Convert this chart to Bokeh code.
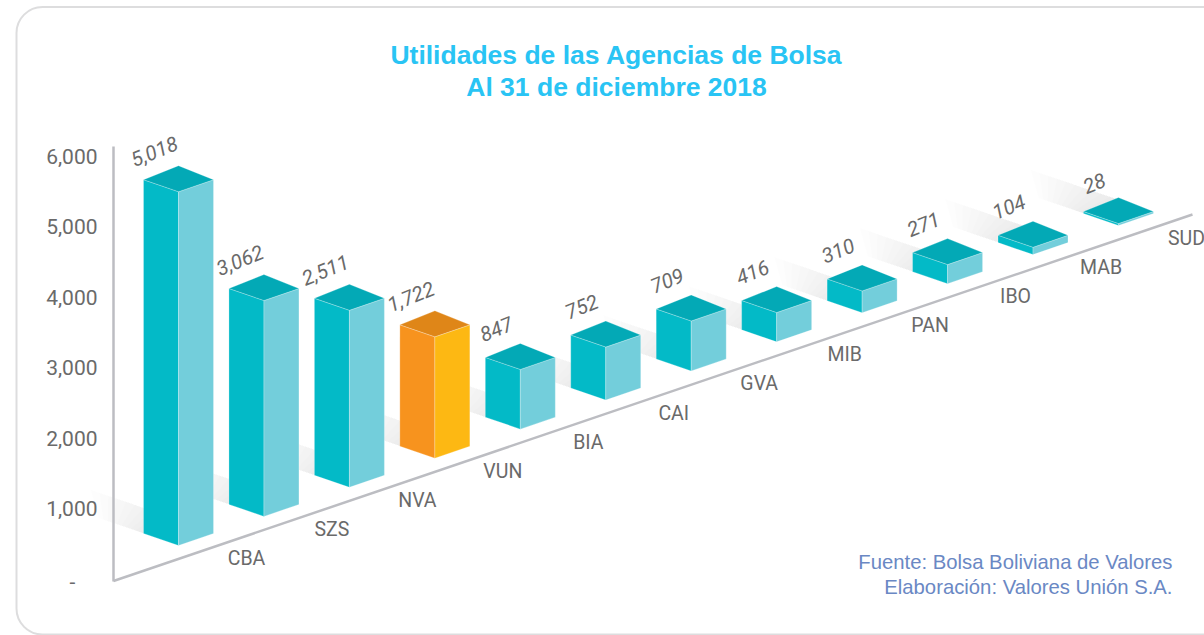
from bokeh.embed import file_html
from bokeh.resources import INLINE
from bokeh.plotting import figure
from bokeh.models import (ColumnDataSource, Range1d, LinearAxis, FixedTicker, NumeralTickFormatter,
                          PolyAnnotation, BoxAnnotation, Label)
from bokeh.core.properties import value

categories = ["CBA", "SZS", "NVA", "VUN", "BIA", "CAI", "GVA", "MIB", "PAN", "IBO", "MAB", "SUD"]
utilidades = [5018, 3062, 2511, 1722, 847, 752, 709, 416, 310, 271, 104, 28]
y_ticks = [0, 1000, 2000, 3000, 4000, 5000, 6000]
highlight = "VUN"
title_lines = ["Utilidades de las Agencias de Bolsa", "Al 31 de diciembre 2018"]
source_lines = ["Fuente: Bolsa Boliviana de Valores", "Elaboración: Valores Unión S.A."]

# canvas pixels <-> data
PX_PER_CAT = 85.45
PX_PER_UNIT = 0.0705
X0, Y0 = 178.0, 580.5
def X(px): return (px - X0) / PX_PER_CAT
def Y(py): return (Y0 - py) / PX_PER_UNIT

W, H = 1204, 635
AXIS_X = 113
p = figure(width=W, height=H, output_backend="svg", toolbar_location=None,
           x_range=Range1d(X(0), X(W)), y_range=Range1d(Y(H), Y(0)),
           x_axis_type=None, y_axis_type=None,
           min_border_left=0, min_border_right=0, min_border_top=0, min_border_bottom=0)
p.outline_line_color = None
p.xgrid.visible = False
p.ygrid.visible = False
p.background_fill_color = "white"

FONT = "Roboto"
GRAY = "#6a6a6a"
AXIS = "#bcbdc2"

# tick label text sits 2px low in this font: the axis gets its own range, lifted by that much
LIFT = 2 / PX_PER_UNIT
p.extra_y_ranges = {"ticks": Range1d(Y(H) - LIFT, Y(0) - LIFT)}
yaxis = LinearAxis(y_range_name="ticks", fixed_location=X(AXIS_X),
                   ticker=FixedTicker(ticks=y_ticks), formatter=NumeralTickFormatter(format="0,0"),
                   major_label_overrides={0: ""}, bounds=(-LIFT, Y(146) - LIFT),
                   axis_line_color=AXIS, axis_line_width=2.5,
                   major_tick_line_color=None, minor_tick_line_color=None,
                   major_label_standoff=10, major_label_text_font=FONT,
                   major_label_text_font_size="21px", major_label_text_color=GRAY)
p.add_layout(yaxis, "left")
p.add_layout(Label(x=X(72), y=0, text="-", text_font=FONT,
                   text_font_size="21px", text_color=GRAY, text_align="center", text_baseline="middle"))

# rounded card
p.add_layout(BoxAnnotation(left=X(16), right=X(1290), top=Y(6.5), bottom=Y(634), border_radius=26,
                           fill_alpha=0, line_color="#909092", line_width=2, level="underlay"))

# oblique projection
DEPTH_UP = 29.09 / PX_PER_UNIT      # floor rise per category, in value units
BASE = (Y0 - 545) / PX_PER_UNIT     # front corner of first bar
HALF = 35 / PX_PER_CAT
SIDE = 12 / PX_PER_UNIT
BACK = 2 * SIDE + 2 / PX_PER_UNIT

# floor shadows behind every bar, faded by nesting translucent strips
STEPS = 10
for i in range(len(categories)):
    fy = BASE + i * DEPTH_UP
    lx, ly = i - HALF, fy + SIDE
    bx, by = i, fy + BACK
    for k in range(STEPS, 0, -1):
        f = k / STEPS
        tb, tl = 88 * f, 45 * f
        pts = [(lx, ly), (bx, by),
               (bx - tb / PX_PER_CAT, by + tb * 0.34 / PX_PER_UNIT),
               (lx - tl / PX_PER_CAT, ly + tl * 0.34 / PX_PER_UNIT)]
        p.add_layout(PolyAnnotation(xs=[q[0] for q in pts], ys=[q[1] for q in pts],
                                    fill_color="#000000", fill_alpha=0.008, line_color=None,
                                    level="underlay"))

# faces
left_x, left_y, right_x, right_y, top_x, top_y, cl, cr, ct = [], [], [], [], [], [], [], [], []
for i, (c, v) in enumerate(zip(categories, utilidades)):
    fy = BASE + i * DEPTH_UP
    left_x.append([i - HALF, i, i, i - HALF])
    left_y.append([fy + SIDE, fy, fy + v, fy + SIDE + v])
    right_x.append([i, i + HALF, i + HALF, i])
    right_y.append([fy, fy + SIDE, fy + SIDE + v, fy + v])
    top_x.append([i - HALF, i, i + HALF, i])
    top_y.append([fy + SIDE + v, fy + v, fy + SIDE + v, fy + BACK + v])
    hot = c == highlight
    cl.append("#f7931e" if hot else "#03bac7")
    cr.append("#fdb813" if hot else "#73cedb")
    ct.append("#df8618" if hot else "#03a9b6")

for xs, ys, cs in ((left_x, left_y, cl), (right_x, right_y, cr), (top_x, top_y, ct)):
    p.patches(xs, ys, fill_color=cs, line_color="#ffffff", line_alpha=0.35, line_width=0.7)

# floor axis
floor_x = [X(AXIS_X), X(1192)]
floor_y = [0, Y(214)]
p.line(floor_x, floor_y, line_color=AXIS, line_width=2.5)

# value and category labels
src = ColumnDataSource(dict(
    x=list(range(len(categories))),
    base=[BASE + i * DEPTH_UP for i in range(len(categories))],
    top=[BASE + i * DEPTH_UP + v for i, v in enumerate(utilidades)],
    cat=categories,
    txt=[f"{v:,}" for v in utilidades],
))
p.text("x", "top", text="txt", source=src, x_offset=-24, y_offset=-40, angle=22, angle_units="deg",
       text_font=value(FONT), text_font_style="italic", text_font_size="20.5px", text_color=GRAY,
       text_align="center", text_baseline="middle")
p.text("x", "base", text="cat", source=src, x_offset=68, y_offset=13,
       text_font=value(FONT), text_font_size="19.5px", text_color=GRAY,
       text_align="center", text_baseline="middle")

# title and source
for line, py in zip(title_lines, (54, 86)):
    p.add_layout(Label(x=X(616), y=Y(py), text=line, text_font="Liberation Sans",
                       text_font_style="bold", text_font_size="26.5px", text_color="#29c4f4",
                       text_align="center", text_baseline="middle"))
for line, py in zip(source_lines, (561, 586)):
    p.add_layout(Label(x=X(1172), y=Y(py), text=line, text_font="Liberation Sans",
                       text_font_size="20.3px", text_color="#6a88c4", text_align="right", text_baseline="middle"))

open("out.html", "w").write(file_html(p, INLINE))
